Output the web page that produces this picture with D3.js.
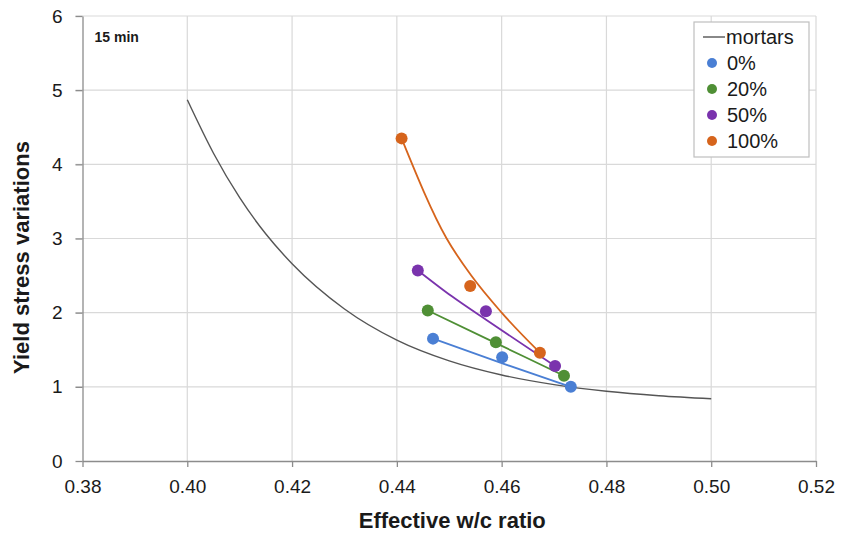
<!DOCTYPE html>
<html>
<head>
<meta charset="utf-8">
<script src="https://cdn.jsdelivr.net/npm/d3@7"></script>
<style>
  body { margin: 0; background: #fff; }
  text { font-family: "Liberation Sans", "Open Sans", sans-serif; fill: #1a1a1a; }
</style>
</head>
<body>
<div id="plot"></div>
<script>
// Chart values
var xTicks = [0.38, 0.40, 0.42, 0.44, 0.46, 0.48, 0.50, 0.52];
var yTicks = [0, 1, 2, 3, 4, 5, 6];

// mortars reference curve
var mortarsX = [0.400, 0.405, 0.410, 0.415, 0.420, 0.430, 0.440, 0.450, 0.460, 0.470, 0.480, 0.490, 0.500];
var mortarsY = [4.87, 4.15, 3.55, 3.06, 2.66, 2.05, 1.63, 1.35, 1.16, 1.03, 0.94, 0.88, 0.84];

var seriesNames = ["0%", "20%", "50%", "100%"];
var seriesColors = ["#4a7fd4", "#4f8f35", "#7a33ad", "#d6641c"];

// measured points
var x0 = [0.4469, 0.4601, 0.4732];
var y0 = [1.65, 1.40, 1.00];
var x20 = [0.4459, 0.4589, 0.4719];
var y20 = [2.03, 1.60, 1.15];
var x50 = [0.4440, 0.4570, 0.4702];
var y50 = [2.57, 2.02, 1.28];
var x100 = [0.4409, 0.4540, 0.4673];
var y100 = [4.35, 2.36, 1.46];

// fitted trend lines
var tx0 = [0.4469, 0.4600, 0.4732];
var ty0 = [1.65, 1.32, 1.00];
var tx20 = [0.4459, 0.4589, 0.4719];
var ty20 = [2.03, 1.59, 1.15];
var tx50 = [0.4440, 0.4505, 0.4571, 0.4702];
var ty50 = [2.57, 2.22, 1.90, 1.28];
var tx100 = [0.4409, 0.4495, 0.4542, 0.4600, 0.4673];
var ty100 = [4.35, 3.00, 2.50, 2.00, 1.46];

var chartWidth = 843;
var chartHeight = 535;
const margin = {top: 16, right: 27, bottom: 74, left: 82.5};
var w = chartWidth - margin.left - margin.right;
var h = chartHeight - margin.top - margin.bottom;

var svg = d3.select("#plot")
     .append("svg")
     .attr("width", chartWidth)
     .attr("height", chartHeight)
     .append("g")
     .attr("transform", "translate(" + margin.left + "," + margin.top + ")");

var x = d3.scaleLinear().domain([0.38, 0.52]).range([0, w]);
var y = d3.scaleLinear().domain([0, 6]).range([h, 0]);

// gridlines
svg.selectAll(".hgrid")
     .data(yTicks.filter(function(d) { return d > 0; }))
     .enter().append("line")
     .attr("x1", -7).attr("x2", w)
     .attr("y1", function(d) { return y(d); })
     .attr("y2", function(d) { return y(d); })
     .attr("stroke", "#d9d9d9").attr("stroke-width", 1.2);

svg.selectAll(".vgrid")
     .data(xTicks.filter(function(d) { return d > 0.38; }))
     .enter().append("line")
     .attr("x1", function(d) { return x(d); })
     .attr("x2", function(d) { return x(d); })
     .attr("y1", 0).attr("y2", h)
     .attr("stroke", "#d9d9d9").attr("stroke-width", 1.2);

// axes
var xAxis = svg.append("g")
     .attr("transform", "translate(0," + h + ")")
     .call(d3.axisBottom(x).tickValues(xTicks).tickFormat(d3.format(".2f")).tickSize(6).tickSizeOuter(0));
var yAxis = svg.append("g")
     .call(d3.axisLeft(y).tickValues(yTicks).tickFormat(d3.format("d")).tickSize(7).tickSizeOuter(0));

[xAxis, yAxis].forEach(function(a) {
     a.selectAll("path, line").attr("stroke", "#8c8c8c").attr("stroke-width", 1.3);
     a.selectAll("text").style("font-size", "19px").attr("fill", "#1a1a1a");
});
xAxis.selectAll("text").attr("dy", "1.2em");
yAxis.selectAll("text").attr("x", -20);

// axis titles
svg.append("text")
     .attr("x", w / 2 + 3)
     .attr("y", h + 67)
     .attr("text-anchor", "middle")
     .style("font-size", "22px").style("font-weight", "bold")
     .text("Effective w/c ratio");

svg.append("text")
     .attr("transform", "translate(" + (-54) + "," + (h / 2 + 19) + ") rotate(-90)")
     .attr("text-anchor", "middle")
     .style("font-size", "22px").style("font-weight", "bold")
     .text("Yield stress variations");

svg.append("text")
     .attr("x", 12).attr("y", 26)
     .style("font-size", "14px").style("font-weight", "bold")
     .text("15 min");

// mortars curve
var mortars = mortarsX.map(function(d, i) { return [d, mortarsY[i]]; });
var line = d3.line()
     .x(function(d) { return x(d[0]); })
     .y(function(d) { return y(d[1]); })
     .curve(d3.curveMonotoneX);

svg.append("path")
     .datum(mortars)
     .attr("fill", "none")
     .attr("stroke", "#555")
     .attr("stroke-width", 1.4)
     .attr("d", line);

// series: trend line first, points on top
var allX = [x0, x20, x50, x100];
var allY = [y0, y20, y50, y100];
var allTX = [tx0, tx20, tx50, tx100];
var allTY = [ty0, ty20, ty50, ty100];
seriesNames.forEach(function(name, s) {
     var tr = allTX[s].map(function(d, i) { return [d, allTY[s][i]]; });
     svg.append("path")
          .datum(tr)
          .attr("fill", "none")
          .attr("stroke", seriesColors[s])
          .attr("stroke-width", 1.8)
          .attr("d", line);
});
seriesNames.forEach(function(name, s) {
     var pts = allX[s].map(function(d, i) { return [d, allY[s][i]]; });
     svg.selectAll(".pt" + s)
          .data(pts)
          .enter().append("circle")
          .attr("class", "pt" + s)
          .attr("cx", function(d) { return x(d[0]); })
          .attr("cy", function(d) { return y(d[1]); })
          .attr("r", 6)
          .attr("fill", seriesColors[s]);
});

// legend
var lg = svg.append("g").attr("transform", "translate(" + (694 - margin.left) + "," + (22 - margin.top) + ")");
lg.append("rect")
     .attr("width", 115).attr("height", 135)
     .attr("fill", "#fff").attr("stroke", "#bfbfbf").attr("stroke-width", 1.2);
lg.append("line")
     .attr("x1", 9).attr("x2", 31).attr("y1", 15).attr("y2", 15)
     .attr("stroke", "#555").attr("stroke-width", 1.4);
lg.append("text")
     .attr("x", 32).attr("y", 15).attr("dy", "0.35em")
     .style("font-size", "20px").text("mortars");
seriesNames.forEach(function(name, s) {
     var yy = 41 + s * 26;
     lg.append("circle").attr("cx", 18).attr("cy", yy).attr("r", 5).attr("fill", seriesColors[s]);
     lg.append("text")
          .attr("x", 33).attr("y", yy).attr("dy", "0.35em")
          .style("font-size", "20px").text(name);
});
</script>
</body>
</html>
